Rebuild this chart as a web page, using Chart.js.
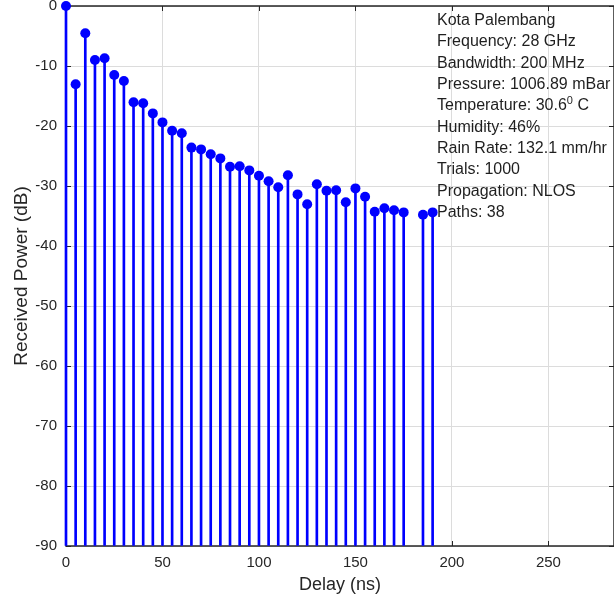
<!DOCTYPE html>
<html>
<head>
<meta charset="utf-8">
<title>Power delay profile</title>
<script src="https://cdn.jsdelivr.net/npm/chart.js@4.4.1/dist/chart.umd.min.js"></script>
<style>
  html, body { margin: 0; padding: 0; background: #fff; overflow: hidden; }
  #wrap { width: 614px; height: 602px; }
</style>
</head>
<body>
<div id="wrap"><canvas id="pdpChart" width="614" height="602"></canvas></div>
<script>
// Delay bins (ns) and the received power (dB) at each path
const delays = [0, 5, 10, 15, 20, 25, 30, 35, 40, 45, 50, 55, 60, 65, 70, 75, 80, 85, 90, 95,
                100, 105, 110, 115, 120, 125, 130, 135, 140, 145, 150, 155, 160, 165, 170, 175, 185, 190];
const powers = [0, -13.05, -4.55, -9.0, -8.7, -11.5, -12.5, -16.05, -16.2, -17.9, -19.4, -20.8, -21.2,
                -23.6, -23.9, -24.7, -25.4, -26.8, -26.7, -27.4, -28.3, -29.2, -30.2, -28.2, -31.4,
                -33.05, -29.7, -30.8, -30.7, -32.7, -30.4, -31.8, -34.3, -33.7, -34.05, -34.4, -34.8, -34.4];

// Axis ticks
const xTicks = [0, 50, 100, 150, 200, 250];
const yTicks = [0, -10, -20, -30, -40, -50, -60, -70, -80, -90];

// Info text shown in the top right ("^" marks a superscript)
const infoLines = [
    'Kota Palembang',
    'Frequency: 28 GHz',
    'Bandwidth: 200 MHz',
    'Pressure: 1006.89 mBar',
    'Temperature: 30.6^0 C',
    'Humidity: 46%',
    'Rain Rate: 132.1 mm/hr',
    'Trials: 1000',
    'Propagation: NLOS',
    'Paths: 38'
];

const FONT = '"Liberation Sans", Arial, Helvetica, sans-serif';
const AXIS_COLOR = '#262626';
const GRID_COLOR = '#dcdcdc';
const STEM_COLOR = '#0000ff';

// box around the axes with inward tick marks, like the original plot
const framePlugin = {
    id: 'frame',
    beforeDatasetsDraw(chart) {
        const { ctx, chartArea: a, scales } = chart;
        ctx.save();
        ctx.strokeStyle = AXIS_COLOR;
        ctx.lineWidth = 1.5;
        ctx.strokeRect(a.left, a.top, a.right - a.left, a.bottom - a.top);
        ctx.lineWidth = 1;
        ctx.beginPath();
        xTicks.forEach(v => {
            const px = Math.round(scales.x.getPixelForValue(v)) + 0.5;
            ctx.moveTo(px, a.top); ctx.lineTo(px, a.top + 5);
            ctx.moveTo(px, a.bottom); ctx.lineTo(px, a.bottom - 5);
        });
        yTicks.forEach(v => {
            const py = Math.round(scales.y.getPixelForValue(v)) + 0.5;
            ctx.moveTo(a.left, py); ctx.lineTo(a.left + 5, py);
            ctx.moveTo(a.right, py); ctx.lineTo(a.right - 5, py);
        });
        ctx.stroke();
        ctx.restore();
    }
};

const infoPlugin = {
    id: 'info',
    afterDatasetsDraw(chart) {
        const ctx = chart.ctx;
        ctx.save();
        ctx.fillStyle = '#1f1f1f';
        ctx.textBaseline = 'middle';
        ctx.textAlign = 'left';
        const x0 = 437, y0 = 20.7, step = 21.3;
        infoLines.forEach((line, i) => {
            const y = y0 + i * step;
            const parts = line.split('^');
            ctx.font = '16px ' + FONT;
            ctx.fillText(parts[0], x0, y);
            if (parts.length > 1) {
                let x = x0 + ctx.measureText(parts[0]).width;
                const sup = parts[1].charAt(0);
                const rest = parts[1].slice(1);
                ctx.font = '11px ' + FONT;
                ctx.fillText(sup, x, y - 5);
                x += ctx.measureText(sup).width;
                ctx.font = '16px ' + FONT;
                ctx.fillText(rest, x, y);
            }
        });
        ctx.restore();
    }
};

const ctx = document.getElementById('pdpChart').getContext('2d');
const pdpChart = new Chart(ctx, {
    type: 'bar',
    data: {
        datasets: [
            {
                type: 'scatter',
                data: delays.map((d, i) => ({ x: d, y: powers[i] })),
                backgroundColor: STEM_COLOR,
                borderColor: STEM_COLOR,
                borderWidth: 0,
                pointRadius: 5,
                pointHoverRadius: 5,
                showLine: false,
                clip: false,
                order: 0
            },
            {
                type: 'bar',
                data: delays.map((d, i) => ({ x: d, y: powers[i] })),
                base: -90,
                backgroundColor: STEM_COLOR,
                borderWidth: 0,
                barThickness: 2,
                grouped: false,
                clip: false,
                order: 1
            }
        ]
    },
    options: {
        responsive: false,
        animation: false,
        devicePixelRatio: 1,
        layout: { autoPadding: false, padding: { top: 6, right: 0, bottom: 0, left: 0 } },
        plugins: {
            legend: { display: false },
            tooltip: { enabled: false }
        },
        scales: {
            x: {
                type: 'linear',
                min: 0,
                max: 284,
                offset: false,
                grid: { color: GRID_COLOR, lineWidth: 1, drawTicks: false, offset: false },
                border: { display: false },
                afterBuildTicks: s => { s.ticks = xTicks.map(v => ({ value: v })); },
                afterFit: s => { s.height = 56; s.paddingLeft = 0; s.paddingRight = 0; },
                ticks: {
                    padding: 8,
                    color: AXIS_COLOR,
                    font: { family: FONT, size: 15 },
                    maxRotation: 0,
                    autoSkip: false,
                    callback: v => String(v)
                },
                title: {
                    display: true,
                    text: 'Delay (ns)',
                    color: AXIS_COLOR,
                    font: { family: FONT, size: 18 },
                    padding: { top: 0, bottom: 6 }
                }
            },
            y: {
                type: 'linear',
                min: -90,
                max: 0,
                grid: { color: GRID_COLOR, lineWidth: 1, drawTicks: false },
                border: { display: false },
                afterBuildTicks: s => { s.ticks = yTicks.map(v => ({ value: v })); },
                afterFit: s => { s.width = 66; s.paddingTop = 0; s.paddingBottom = 0; },
                ticks: {
                    padding: 9,
                    color: AXIS_COLOR,
                    font: { family: FONT, size: 15 },
                    autoSkip: false,
                    callback: v => String(v)
                },
                title: {
                    display: true,
                    text: 'Received Power (dB)',
                    color: AXIS_COLOR,
                    font: { family: FONT, size: 19 },
                    padding: { top: 10, bottom: 0 }
                }
            }
        }
    },
    plugins: [framePlugin, infoPlugin]
});
</script>
</body>
</html>
